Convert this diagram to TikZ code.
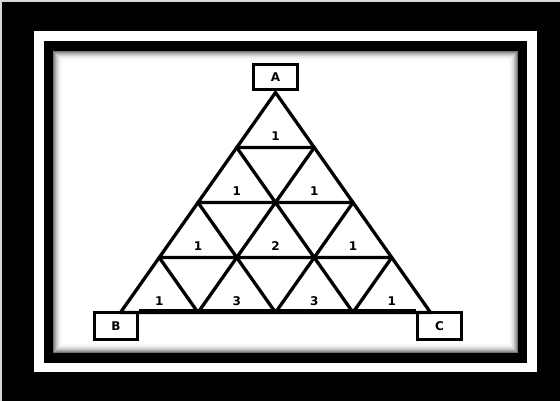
\documentclass[tikz,border=0pt]{standalone}
\usepackage{fontspec}
\setmainfont{DejaVu Sans}
\usetikzlibrary{calc}
\begin{document}
\begin{tikzpicture}[x=1pt,y=-1pt,
  edge/.style={line width=3.3pt,line join=round,line cap=round},
  lbox/.style={draw,line width=3.3pt,fill=white,inner sep=0pt,font=\fontsize{12}{14}\selectfont\bfseries},
  num/.style={font=\fontsize{12}{14}\selectfont\bfseries,inner sep=0pt}]
\useasboundingbox (0,0) rectangle (560,401);
% frames
\fill[black!15] (0,0) rectangle (560,401);
\fill[black] (2,2) rectangle (560,401);
\fill[white] (34,31) rectangle (537,372);
\fill[black] (44,41) rectangle (527,363);
\fill[white] (53,51) rectangle (518,353);
\foreach \i/\g in {0.5/55,1.5/42,2.5/32,3.5/24,4.5/17,5.5/11,6.5/7,7.5/4,8.5/2,9.5/1}
  \draw[line width=1.05pt,black!\g] (53+\i,51+\i) rectangle (518-\i,353-\i);
% grid points
\foreach \k in {0,...,4}
  \foreach \j in {0,...,\k}
    \coordinate (p-\k-\j) at ({275.5-38.75*\k+77.5*\j},{92.5+55*\k});
% boxes
\node[lbox,minimum width=44pt,minimum height=25pt] (A) at (275.5,77) {A};
\node[lbox,minimum width=43pt,minimum height=27pt] (B) at (116,326) {B};
\node[lbox,minimum width=44pt,minimum height=27pt] (C) at (439.5,326) {C};
% triangles
\foreach \k in {0,...,3}{
  \pgfmathtruncatemacro{\kn}{\k+1}
  \foreach \j in {0,...,\k}{
    \pgfmathtruncatemacro{\jn}{\j+1}
    \draw[edge] (p-\k-\j) -- (p-\kn-\j) -- (p-\kn-\jn) -- cycle;
  }
}
\draw[edge,line cap=butt] (B.north east) -- (C.north west);
% labels
\foreach \k/\j/\v in {0/0/1, 1/0/1,1/1/1, 2/0/1,2/1/2,2/2/1, 3/0/1,3/1/3,3/2/3,3/3/1}
  \node[num] (n-\k-\j) at ($(p-\k-\j)+(0,{55-11.5})$) {\v};
\end{tikzpicture}
\end{document}
